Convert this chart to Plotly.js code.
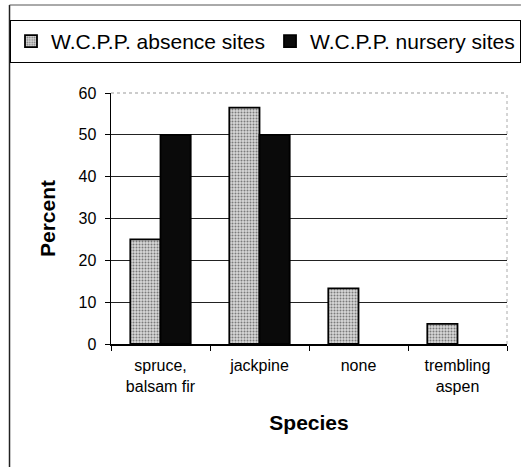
<!DOCTYPE html>
<html>
<head>
<meta charset="utf-8">
<script src="https://cdn.plot.ly/plotly-3.0.1.min.js"></script>
<style>html,body{margin:0;padding:0;background:#fff;}#chart{width:521px;height:467px;}</style>
</head>
<body>
<div id="chart"></div>
<script>
const categories = ["spruce,<br>balsam fir", "jackpine", "none", "trembling<br>aspen"];
const absenceValues = [25, 56.5, 13.3, 4.8];
const nurseryValues = [50, 50, 0, 0];
const seriesNames = ["W.C.P.P. absence sites", "W.C.P.P. nursery sites"];
const yTicks = [0, 10, 20, 30, 40, 50, 60];

const W = 521, H = 467;
const L = 109, R = 507, T = 93, B = 344;
const pw = R - L, ph = B - T;
const px = v => (v - L) / pw;
const py = v => (B - v) / ph;

const traces = [
  {
    type: "bar", name: seriesNames[0], x: categories, y: absenceValues,
    marker: {
      color: "#cfcfcf",
      line: {color: "#000", width: 1.8},
      pattern: {shape: ".", fgcolor: "#7a7a7a", bgcolor: "#d8d8d8", size: 3, solidity: 0.35}
    }
  },
  {
    type: "bar", name: seriesNames[1], x: categories, y: nurseryValues,
    marker: {
      color: "#0a0a0a",
      line: {color: "#000", width: nurseryValues.map(v => v > 0 ? 1.8 : 0)}
    }
  }
];

const font = "Arial, 'Liberation Sans', sans-serif";
const layout = {
  width: W, height: H,
  margin: {l: L, r: W - R, t: T, b: H - B, pad: 0},
  paper_bgcolor: "#fff", plot_bgcolor: "#fff",
  barmode: "group", bargap: 0.39, bargroupgap: 0,
  showlegend: true,
  font: {family: font, color: "#000"},
  legend: {
    orientation: "h", x: px(10), y: py(20), xanchor: "left", yanchor: "top",
    bordercolor: "#000", borderwidth: 1, bgcolor: "#fff",
    font: {size: 21, family: font, color: "#000"},
    itemwidth: 30, tracegroupgap: 0
  },
  xaxis: {
    type: "category", showline: true, linecolor: "#000", linewidth: 1.5,
    ticks: "outside", tickson: "boundaries", ticklen: 5, tickcolor: "#000",
    ticklabelstandoff: 6,
    tickfont: {size: 16, family: font, color: "#000"},
    showgrid: false, fixedrange: true,
    title: {text: "<b>Species</b>", font: {size: 21, family: font, color: "#000"}, standoff: 22}
  },
  yaxis: {
    range: [0, 60], tickvals: yTicks, showline: true, linecolor: "#000", linewidth: 1.5,
    ticks: "outside", ticklen: 5, tickcolor: "#000",
    ticklabelstandoff: 5,
    tickfont: {size: 16, family: font, color: "#000"},
    showgrid: true, gridcolor: "#222", gridwidth: 1, zeroline: false,
    fixedrange: true,
    title: {text: "<b>Percent</b>", font: {size: 21, family: font, color: "#000"}, standoff: 17}
  },
  shapes: [
    {type: "line", xref: "paper", yref: "paper", x0: 0, x1: 1, y0: 1, y1: 1, line: {color: "#999", width: 1, dash: "dot"}},
    {type: "line", xref: "paper", yref: "paper", x0: 1, x1: 1, y0: 0, y1: 1, line: {color: "#aaa", width: 1, dash: "dot"}},
    {type: "line", xref: "paper", yref: "paper", x0: px(7), x1: px(7), y0: py(5), y1: py(467), line: {color: "#222", width: 1.5}},
    {type: "line", xref: "paper", yref: "paper", x0: px(7), x1: px(521), y0: py(5), y1: py(5), line: {color: "#555", width: 1}}
  ]
};

Plotly.newPlot("chart", traces, layout, {staticPlot: true, displayModeBar: false});
</script>
</body>
</html>
